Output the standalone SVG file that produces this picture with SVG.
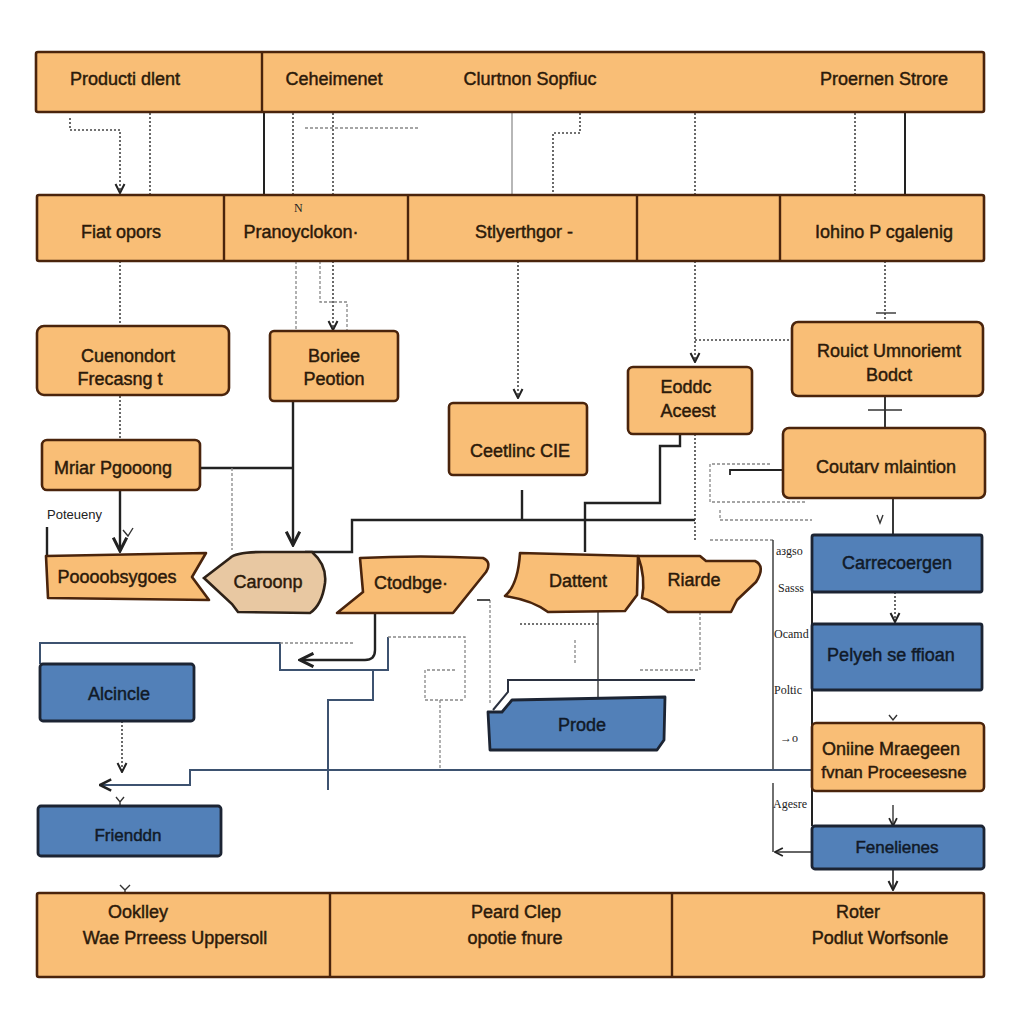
<svg xmlns="http://www.w3.org/2000/svg" width="1024" height="1024" viewBox="0 0 1024 1024">
<defs>
<style>
.o{fill:#F9BE76;stroke:#4a240c;stroke-width:2.6;stroke-linejoin:round}
.b{fill:#5280B8;stroke:#1c2433;stroke-width:2.8;stroke-linejoin:round}
.tan{fill:#E8C8A2;stroke:#2e2218;stroke-width:2.6}
.t{font-family:"Liberation Sans","Noto Sans",sans-serif;font-size:18px;fill:#2c1a0a;stroke:#2c1a0a;stroke-width:0.45;text-anchor:middle}
.tb{font-family:"Liberation Sans","Noto Sans",sans-serif;font-size:18px;fill:#111a28;stroke:#111a28;stroke-width:0.45;text-anchor:middle}
.s{font-family:"Liberation Serif",serif;font-size:12px;fill:#222;text-anchor:start}
.k{fill:none;stroke:#222;stroke-width:2.4}
.kt{fill:none;stroke:#333;stroke-width:1.4}
.d{fill:none;stroke:#444;stroke-width:1.6;stroke-dasharray:2 2}
.dl{fill:none;stroke:#888;stroke-width:1.3;stroke-dasharray:3 2}
.bl{fill:none;stroke:#3d5270;stroke-width:2}
</style>
<marker id="a" viewBox="0 0 10 10" refX="9" refY="5" markerWidth="7" markerHeight="7" orient="auto-start-reverse"><path d="M1,1 L9,5 L1,9" fill="none" stroke="#222" stroke-width="1.8"/></marker>
</defs>
<rect width="1024" height="1024" fill="#fff"/>

<g id="connectors">
<path class="d" d="M70,118 V130 H120 V193" marker-end="url(#a)"/>
<path class="d" d="M150,113 V195"/>
<path class="k" d="M264,113 V195" style="stroke-width:2"/>
<path class="d" d="M293,113 V195"/>
<path class="d" d="M333,113 V195"/>
<path class="dl" d="M305,128 H420"/>
<path class="kt" d="M512,113 V195" style="stroke:#999"/>
<path class="d" d="M580,113 V133 H553 V195"/>
<path class="d" d="M695,113 V195"/>
<path class="d" d="M855,113 V195"/>
<path class="k" d="M905,113 V195" style="stroke-width:2"/>
<path class="d" d="M120,261 V326"/>
<path class="dl" d="M296,261 V331"/>
<path class="d" d="M333,261 V330" marker-end="url(#a)"/>
<path class="dl" d="M320,261 V302 H347 V331"/>
<path class="d" d="M518,261 V398" marker-end="url(#a)"/>
<path class="d" d="M695,261 V362" marker-end="url(#a)"/>
<path class="d" d="M695,340 H790"/>
<path class="d" d="M885,261 V320"/>
<path class="kt" d="M876,313 H896"/>
<path class="k" d="M885,396 V428" style="stroke-width:1.8"/>
<path class="kt" d="M868,410 H902"/>
<path class="d" d="M120,396 V440"/>
<path class="k" d="M120,490 V551" marker-end="url(#a)"/>
<path class="k" d="M200,468 H293"/>
<path class="dl" d="M232,468 V550"/>
<path class="k" d="M293,401 V545" marker-end="url(#a)"/>
<path class="k" d="M47,527 V555"/>
<path class="k" d="M305,552 H352 V520 H695"/>
<path class="k" d="M522,490 V520"/>
<path class="k" d="M680,434 V446 H660 V503 H585 V552"/>
<path class="d" d="M695,434 V540"/>
<path class="k" d="M783,470 H730 V475" style="stroke-width:1.8"/>
<path class="dl" d="M770,464 H710 V502 H805"/>
<path class="dl" d="M720,510 V520 H812"/>
<path class="dl" d="M710,540 H773"/>
<path class="k" d="M893,498 V535" style="stroke-width:1.8"/>
<path class="kt" d="M877,515 L880,523 L883,515"/>
<path class="kt" d="M773,540 V770"/>
<path class="kt" d="M773,783 V852"/>
<path class="kt" d="M812,852 H775" marker-end="url(#a)"/>
<path class="k" d="M812,592 V826" style="stroke-width:2"/>
<path class="d" d="M895,592 V622" marker-end="url(#a)"/>
<path class="kt" d="M889,715 L893,720 L897,715"/>
<path class="kt" d="M893,805 V826" marker-end="url(#a)"/>
<path class="k" d="M893,869 V890" style="stroke-width:1.6" marker-end="url(#a)"/>
<path class="k" d="M375,613 V650 Q375,660 365,660 H300" marker-end="url(#a)"/>
<path class="bl" d="M40,664 V643 H280 V670 H388 V637"/>
<path class="dl" d="M280,643 H355"/>
<path class="dl" d="M388,637 H465 V700"/>
<path class="dl" d="M455,670 H425 V700 H465"/>
<path class="bl" d="M373,670 V700 H328 V790"/>
<path class="dl" d="M440,700 V770"/>
<path class="bl" d="M100,785 H190 V770 H812" marker-start="url(#a)"/>
<path class="d" d="M122,721 V772" marker-end="url(#a)"/>
<path class="kt" d="M116,797 L120,802 L124,797 M120,802 V806"/>
<path class="kt" d="M120,885 L125,890 L130,885 M125,890 V893"/>
<path class="kt" d="M598,612 V700"/>
<path class="d" d="M520,624 H598"/>
<path class="k" d="M493,710 L508,692 V680 H695" style="stroke:#2b3140;stroke-width:2"/>
<path class="dl" d="M490,600 V705"/>
<path class="k" d="M477,600 H490" style="stroke-width:1.6"/>
<path class="dl" d="M700,612 V670 H640"/>
<path class="dl" d="M575,640 V665"/>
<path class="kt" d="M123,530 L128,536 L133,528"/>
</g>

<g id="top-bar">
<rect class="o" x="36" y="52" width="948" height="60" rx="2"/>
<path class="k" d="M262,52 V112" style="stroke:#4a240c"/>
<text class="t" x="125" y="85">Producti dlent</text>
<text class="t" x="334" y="85">Ceheimenet</text>
<text class="t" x="530" y="85">Clurtnon Sopfiuc</text>
<text class="t" x="884" y="85">Proernen Strore</text>
</g>

<g id="second-bar">
<rect class="o" x="37" y="195" width="947" height="66" rx="2"/>
<path class="k" d="M224,195 V261 M408,195 V261 M637,195 V261 M780,195 V261" style="stroke:#4a240c"/>
<text class="t" x="121" y="238">Fiat opors</text>
<text class="t" x="301" y="238">Pranoyclokon·</text>
<text class="t" x="524" y="238">Stlyerthgor -</text>
<text class="t" x="884" y="238">Iohino P cgalenig</text>
<text class="s" x="294" y="212">N</text>
</g>

<g id="n-cuenondort"><rect class="o" x="37" y="326" width="192" height="69" rx="7"/><text class="t" x="128" y="362">Cuenondort</text><text class="t" x="120" y="385">Frecasng t</text></g>
<g id="n-boriee"><rect class="o" x="270" y="331" width="128" height="70" rx="4"/><text class="t" x="334" y="362">Boriee</text><text class="t" x="334" y="385">Peotion</text></g>
<g id="n-ceetlinc"><rect class="o" x="449" y="403" width="138" height="72" rx="4"/><text class="t" x="520" y="457">Ceetlinc CIE</text></g>
<g id="n-eoddc"><rect class="o" x="628" y="367" width="124" height="67" rx="5"/><text class="t" x="686" y="393">Eoddc</text><text class="t" x="688" y="417">Aceest</text></g>
<g id="n-rouict"><rect class="o" x="792" y="322" width="191" height="74" rx="6"/><text class="t" x="889" y="357">Rouict Umnoriemt</text><text class="t" x="889" y="381">Bodct</text></g>
<g id="n-coutarv"><rect class="o" x="783" y="428" width="202" height="70" rx="6"/><text class="t" x="886" y="473">Coutarv mlaintion</text></g>
<g id="n-mriar"><rect class="o" x="42" y="440" width="158" height="50" rx="5"/><text class="t" x="113" y="474">Mriar Pgooong</text></g>
<text class="s" x="47" y="519" style="font-family:'Liberation Sans',sans-serif;font-size:13px">Poteueny</text>
<g id="n-poooob"><path class="o" d="M46,556 L206,553 L192,577 L209,600 L48,598 Z"/><text class="t" x="117" y="583">Poooobsygoes</text></g>
<g id="n-caroonp"><path class="tan" d="M204,578 L230,558 Q236,552 262,552 L312,552 Q327,565 325,583 Q322,605 310,613 L238,612 L232,604 Z"/><text class="t" x="268" y="588">Caroonp</text></g>
<g id="n-ctodbge"><path class="o" d="M360,558 Q420,555 483,558 Q492,562 486,572 L453,613 L337,613 L363,592 Z"/><text class="t" x="411" y="589">Ctodbge·</text></g>
<g id="n-dattent"><path class="o" d="M520,553 L638,556 L637,595 L625,611 L548,612 Q532,600 505,596 Q518,585 520,553 Z"/><text class="t" x="578" y="587">Dattent</text></g>
<g id="n-riarde"><path class="o" d="M638,556 L700,556 L706,561 L755,561 Q766,566 756,582 L737,600 L731,612 L668,612 Q652,600 642,598 Q646,578 638,556 Z"/><text class="t" x="694" y="586">Riarde</text></g>
<g id="n-alcincle"><rect class="b" x="40" y="664" width="154" height="57" rx="3"/><text class="tb" x="119" y="700">Alcincle</text></g>
<g id="n-frienddn"><rect class="b" x="38" y="806" width="183" height="50" rx="3"/><text class="tb" x="128" y="841" style="font-size:17px">Frienddn</text></g>
<g id="n-prode"><path class="b" d="M488,712 L502,712 L512,700 L665,697 L664,740 L657,750 L490,750 Z"/><text class="tb" x="582" y="731">Prode</text></g>
<g id="n-carrec"><rect class="b" x="812" y="535" width="170" height="57" rx="2"/><text class="tb" x="897" y="569">Carrecoergen</text></g>
<g id="n-pelych"><rect class="b" x="812" y="624" width="170" height="66" rx="2"/><text class="tb" x="891" y="661">Pelyeh se ffioan</text></g>
<g id="n-oniine"><rect class="o" x="812" y="723" width="172" height="68" rx="4"/><text class="t" x="891" y="755">Oniine Mraegeen</text><text class="t" x="894" y="778" style="font-size:17px">fvnan Proceesesne</text></g>
<g id="n-fenel"><rect class="b" x="812" y="826" width="172" height="43" rx="3"/><text class="tb" x="897" y="853" style="font-size:17px">Fenelienes</text></g>

<g id="side-labels">
<text class="s" x="776" y="555">aзgso</text>
<text class="s" x="778" y="592">Sasss</text>
<text class="s" x="774" y="638">Ocamd</text>
<text class="s" x="774" y="694">Poltic</text>
<text class="s" x="780" y="742">→o</text>
<text class="s" x="773" y="808">Agesre</text>
</g>

<g id="bottom-bar">
<rect class="o" x="37" y="893" width="947" height="84" rx="2"/>
<path class="k" d="M330,893 V977 M672,893 V977" style="stroke:#4a240c"/>
<text class="t" x="138" y="918">Ooklley</text>
<text class="t" x="175" y="944">Wae Prreess Uppersoll</text>
<text class="t" x="516" y="918">Peard Clep</text>
<text class="t" x="515" y="944">opotie fnure</text>
<text class="t" x="858" y="918">Roter</text>
<text class="t" x="880" y="944">Podlut Worfsonle</text>
</g>
</svg>
